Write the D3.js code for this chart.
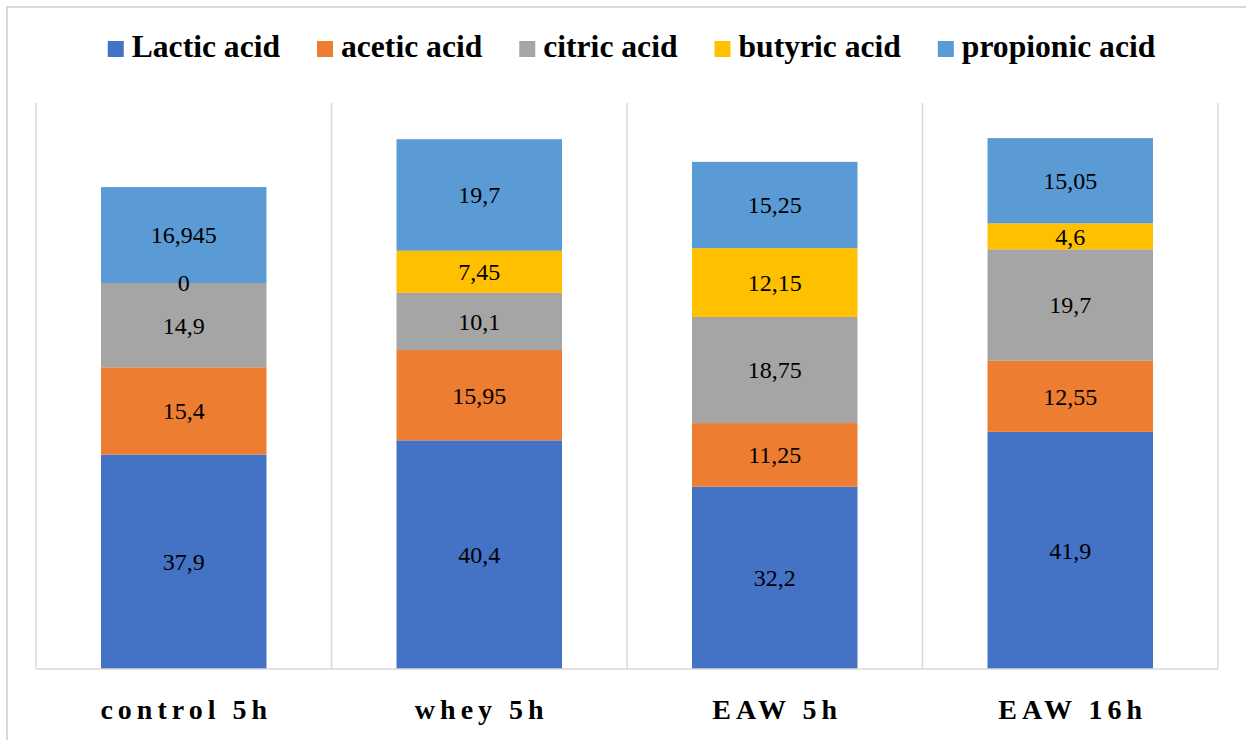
<!DOCTYPE html>
<html>
<head>
<meta charset="utf-8">
<script src="https://cdn.jsdelivr.net/npm/d3@7/dist/d3.min.js"></script>
<style>
  html, body { margin: 0; padding: 0; background: #fff; }
  svg { display: block; }
  svg text { font-family: "Liberation Serif", "Times New Roman", Times, "DejaVu Serif", serif; }
</style>
</head>
<body>
<svg id="chart" width="1246" height="740"></svg>
<script>
// Organic acid composition per sample
const categories = ["control 5h", "whey 5h", "EAW 5h", "EAW 16h"];
const seriesNames = ["Lactic acid", "acetic acid", "citric acid", "butyric acid", "propionic acid"];
const lactic    = [37.9, 40.4, 32.2, 41.9];
const acetic    = [15.4, 15.95, 11.25, 12.55];
const citric    = [14.9, 10.1, 18.75, 19.7];
const butyric   = [0, 7.45, 12.15, 4.6];
const propionic = [16.945, 19.7, 15.25, 15.05];
const colors = ["#4472C4", "#ED7D31", "#A5A5A5", "#FFC000", "#5B9BD5"];

const seriesValues = [lactic, acetic, citric, butyric, propionic];
const rows = categories.map((c, i) => {
  const r = { cat: c };
  seriesNames.forEach((s, k) => { r[s] = seriesValues[k][i]; });
  return r;
});

const svg = d3.select("#chart");
const plot = { left: 36, right: 1218, top: 103, bottom: 669 };

// Outer chart frame
svg.append("rect")
  .attr("x", 7).attr("y", 7)
  .attr("width", 1300).attr("height", 800)
  .attr("fill", "none").attr("stroke", "#d9d9d9").attr("stroke-width", 2);

const x = d3.scaleBand()
  .domain(categories)
  .range([plot.left, plot.right])
  .paddingInner(0.44)
  .paddingOuter(0.22);

const y = d3.scaleLinear().domain([0, 100]).range([plot.bottom, plot.top]);

// Vertical separators between categories
const step = x.step();
const bounds = d3.range(categories.length + 1).map(i => plot.left + i * step);
svg.append("g").selectAll("line").data(bounds).join("line")
  .attr("x1", d => d).attr("x2", d => d)
  .attr("y1", plot.top).attr("y2", plot.bottom)
  .attr("stroke", "#d9d9d9").attr("stroke-width", 1.5);

const stack = d3.stack().keys(seriesNames);
const layers = stack(rows);

const g = svg.append("g");
layers.forEach((layer, k) => {
  g.append("g").attr("fill", colors[k])
    .selectAll("rect").data(layer).join("rect")
    .attr("x", d => x(d.data.cat))
    .attr("width", x.bandwidth())
    .attr("y", d => y(d[1]))
    .attr("height", d => y(d[0]) - y(d[1]));
});

// Baseline
svg.append("line")
  .attr("x1", plot.left).attr("x2", plot.right)
  .attr("y1", plot.bottom).attr("y2", plot.bottom)
  .attr("stroke", "#d9d9d9").attr("stroke-width", 1.5);

// Segment value labels
const fmt = v => String(v).replace(".", ",");
layers.forEach((layer, k) => {
  svg.append("g").selectAll("text").data(layer).join("text")
    .attr("x", d => x(d.data.cat) + x.bandwidth() / 2)
    .attr("y", d => (y(d[0]) + y(d[1])) / 2)
    .attr("dy", "0.35em")
    .attr("text-anchor", "middle")
    .style("font-size", "24px")
    .attr("fill", "#000")
    .text(d => fmt(+(d[1] - d[0]).toFixed(3)));
});

// Category labels
svg.append("g").selectAll("text").data(categories).join("text")
  .attr("x", d => x(d) + x.bandwidth() / 2 + 2.5)
  .attr("y", 719)
  .attr("text-anchor", "middle")
  .style("font-weight", "bold")
  .style("font-size", "28px")
  .style("letter-spacing", "5px")
  .attr("fill", "#000")
  .text(d => d);

// Legend
const legend = svg.append("g");
const items = seriesNames.map((s, k) => {
  const it = legend.append("g");
  it.append("rect").attr("width", 16).attr("height", 16).attr("y", 41).attr("fill", colors[k]);
  const t = it.append("text")
    .attr("x", 24).attr("y", 57)
    .style("font-weight", "bold")
    .style("font-size", "31.6px")
    .attr("fill", "#000")
    .text(s);
  return { g: it, w: 24 + t.node().getComputedTextLength() };
});
const gap = 37;
const total = d3.sum(items, d => d.w) + gap * (items.length - 1);
let cx = 631.5 - total / 2;
items.forEach(d => { d.g.attr("transform", `translate(${cx},0)`); cx += d.w + gap; });
</script>
</body>
</html>
